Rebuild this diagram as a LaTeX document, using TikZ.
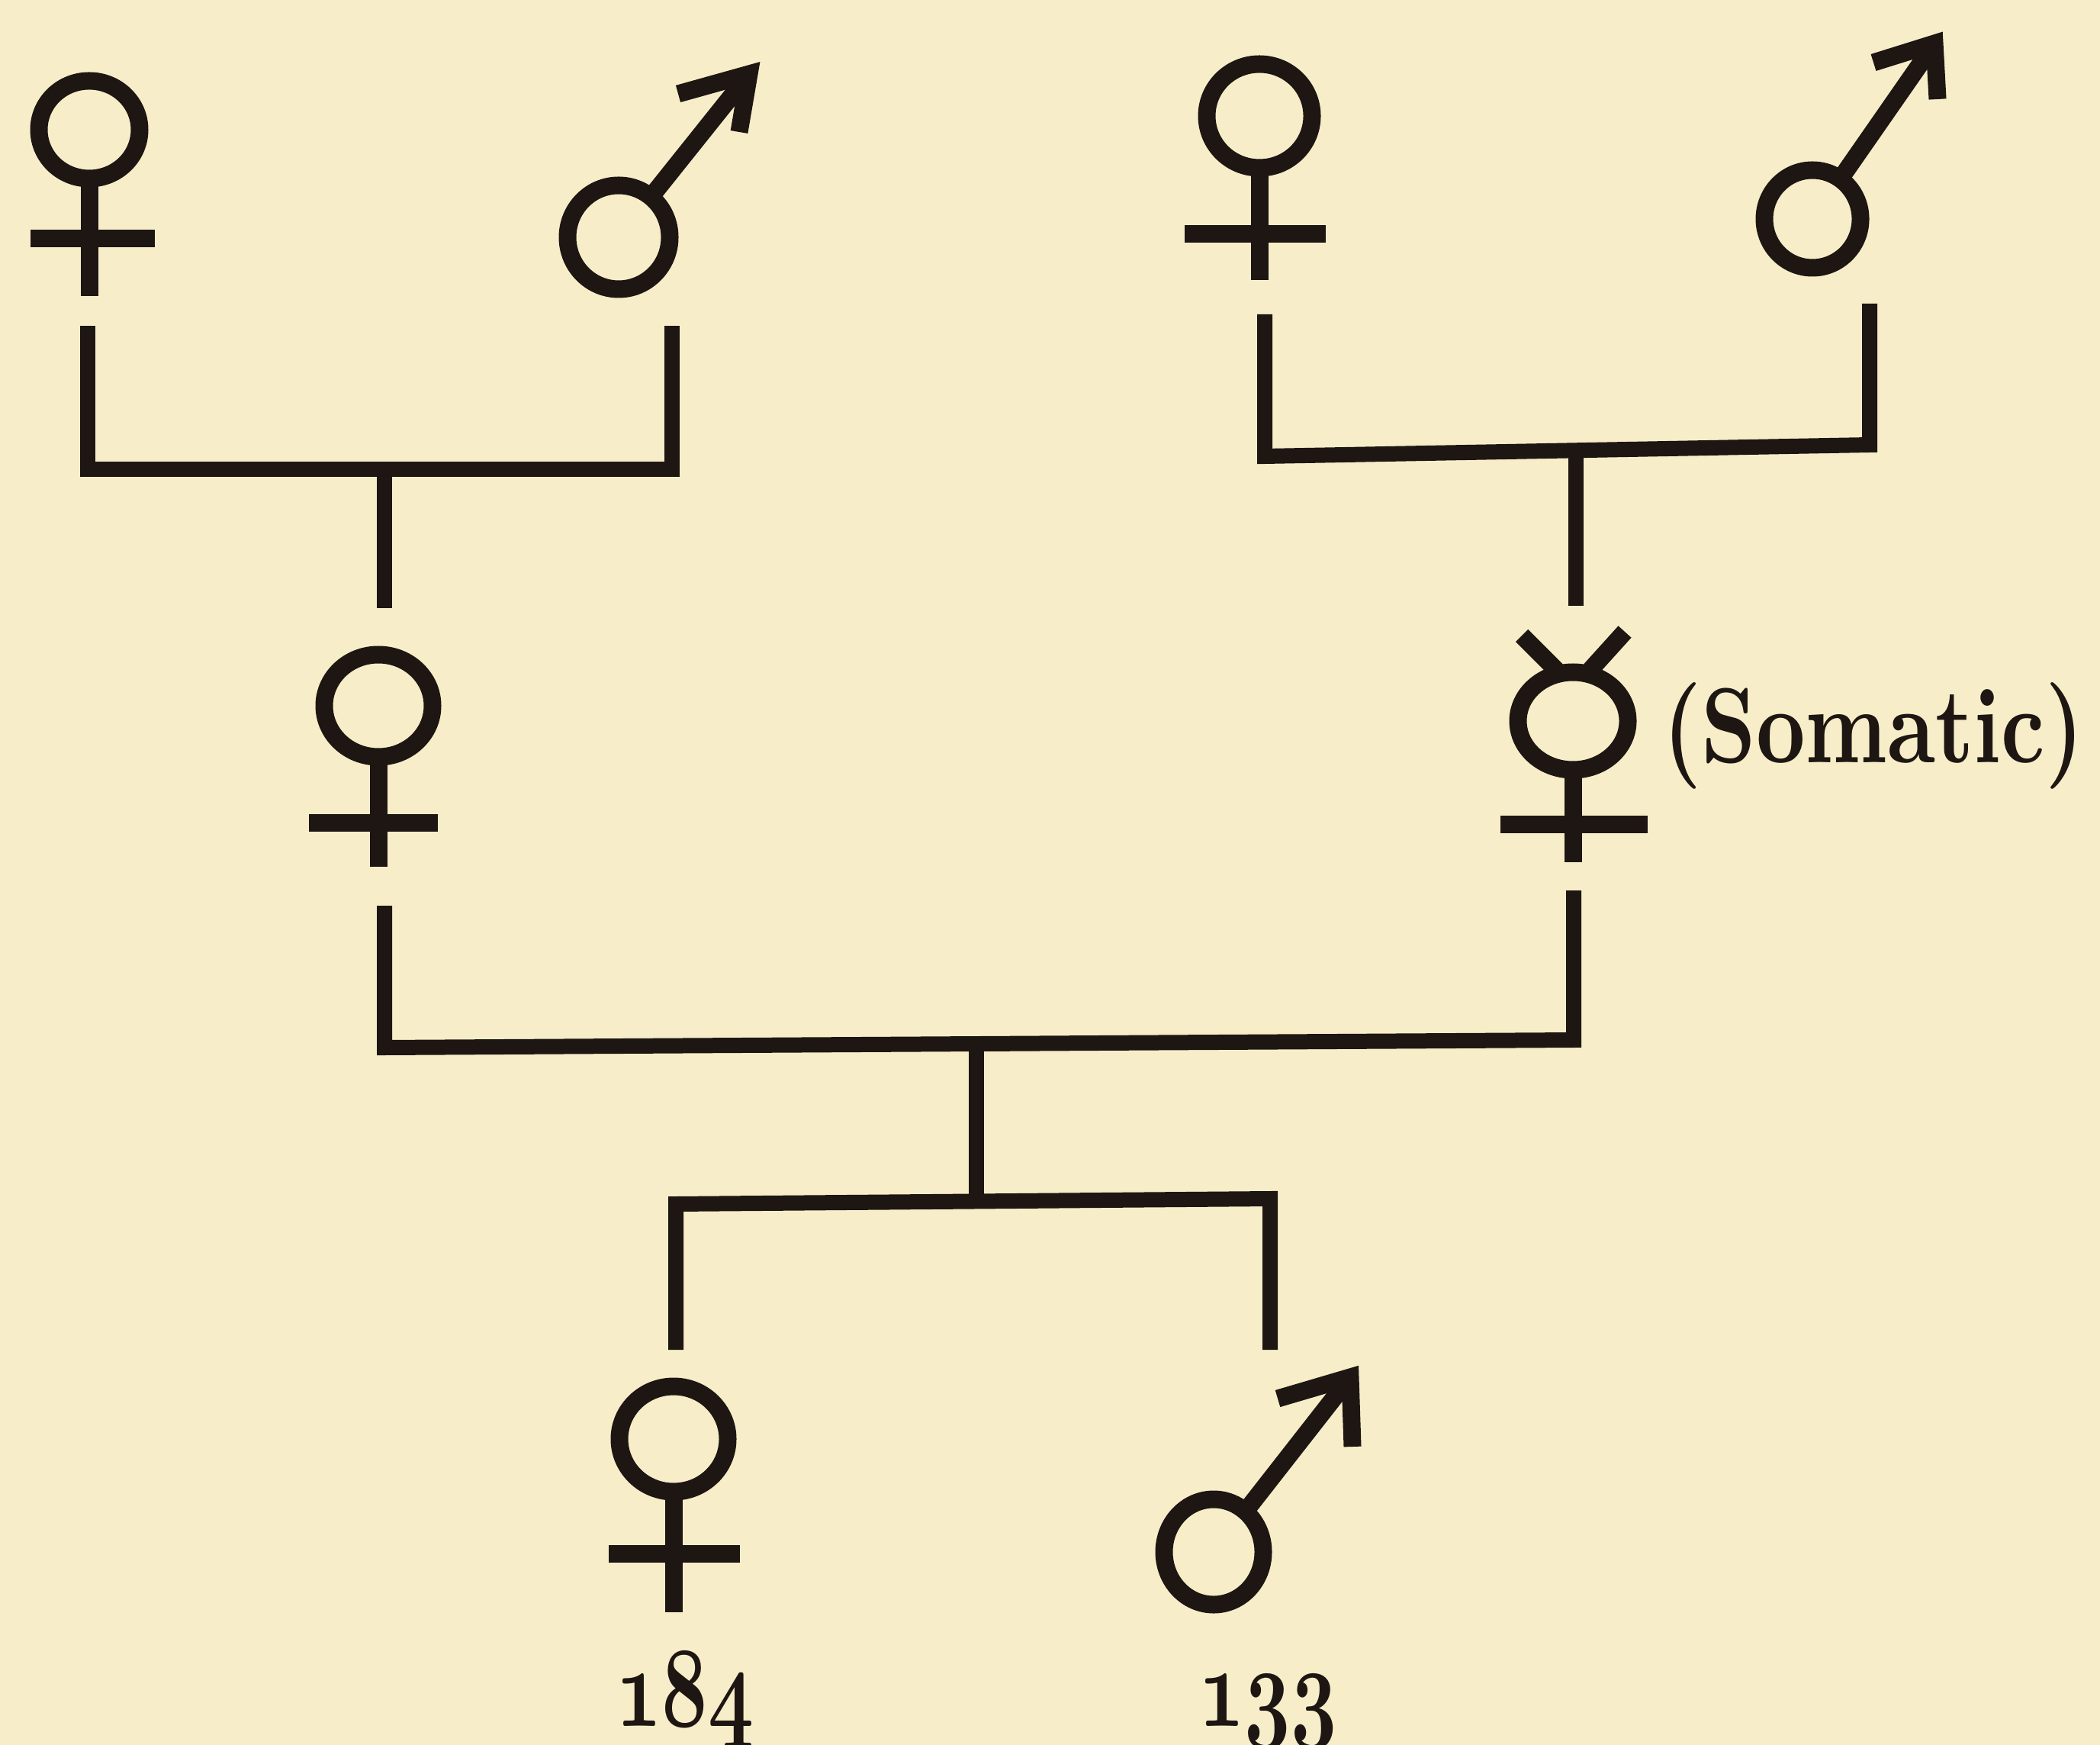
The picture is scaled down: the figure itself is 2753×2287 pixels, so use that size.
\documentclass[tikz,border=0pt]{standalone}
\usetikzlibrary{calc}
\definecolor{paper}{RGB}{247,238,201}
\definecolor{ink}{RGB}{30,22,18}
\newcommand\osfbold[1]{{\usefont{OML}{cmm}{b}{it}#1}}
% female symbol: centre x, centre y, rx, ry, stem end y, bar y, bar left, bar right
\newcommand\femsym[8]{%
  \draw[sym] (#1,#2) ellipse [x radius=#3, y radius=#4];
  \draw[sym] (#1,#2+#4) -- (#1,#5);
  \draw[sym] (#7,#6) -- (#8,#6);}
% male symbol: centre name, rx, ry  (uses coordinates name-tip, name-b1, name-b2)
\newcommand\malesym[3]{%
  \draw[sym] (#1) ellipse [x radius=#2, y radius=#3];
  \draw[sym,line cap=butt] ($(#1)!12pt!(#1-tip)$) -- (#1-tip);
  \draw[sym,line join=miter,miter limit=10] (#1-b1) -- (#1-tip) -- (#1-b2);}
\begin{document}
\begin{tikzpicture}[x=0.2pt,y=-0.2pt,
  conn/.style={draw=ink,line width=4pt,line join=miter,line cap=butt},
  sym/.style={draw=ink,line width=4.6pt},
  lbl/.style={text=ink,inner sep=0pt,outer sep=0pt}]
\fill[paper] (0,0) rectangle (2753,2287);
\useasboundingbox (0,0) rectangle (2753,2287);

% ---------- symbol centres ----------
\coordinate (tlf) at (117,170);
\coordinate (tlm) at (811,311);
\coordinate (tlm-tip) at (982,97);
\coordinate (tlm-b1) at (889,123);
\coordinate (tlm-b2) at (969,173);
\coordinate (trf) at (1651,152);
\coordinate (trm) at (2376,287);
\coordinate (trm-tip) at (2536,57);
\coordinate (trm-b1) at (2456,82);
\coordinate (trm-b2) at (2540,130);
\coordinate (mlf) at (496,925);
\coordinate (som) at (2062,945);
\coordinate (bf) at (883,1886);
\coordinate (bm) at (1591,2034);
\coordinate (bm-tip) at (1770,1805);
\coordinate (bm-b1) at (1675,1833);
\coordinate (bm-b2) at (1773,1896);

% ---------- symbols ----------
\femsym{117}{170}{66}{64}{388}{313}{40}{203}
\malesym{tlm}{67}{68}
\femsym{1651}{152}{69}{68}{367}{307}{1553}{1738}
\malesym{trm}{63}{64}
\femsym{496}{925}{71}{67}{1136}{1078}{405}{574}
\femsym{2062}{945}{72}{64}{1130}{1080}{1967}{2160}
\draw[sym] (1995,833) -- (2042,880);
\draw[sym] (2130,828) -- (2083,880);
\femsym{883}{1886}{71}{69}{2113}{2036}{798}{970}
\malesym{bm}{65}{69}

% ---------- connector end points ----------
\coordinate (tlf-t) at (115,427);   \coordinate (tlf-k) at (115,615);
\coordinate (tlm-t) at (881,427);   \coordinate (tlm-k) at (881,615);
\coordinate (tlj) at (504,615);     \coordinate (mlf-t) at (504,797);
\coordinate (trf-t) at (1658,412);  \coordinate (trf-k) at (1658,598);
\coordinate (trm-t) at (2451,398);  \coordinate (trm-k) at (2451,583);
\coordinate (trj) at (2066,590);    \coordinate (som-t) at (2066,794);
\coordinate (mlf-b) at (504,1187);  \coordinate (mlf-k) at (504,1373);
\coordinate (som-b) at (2063,1167); \coordinate (som-k) at (2063,1363);
\coordinate (mj) at (1280,1368);    \coordinate (mj-b) at (1280,1575);
\coordinate (bf-k) at (886,1578);   \coordinate (bf-t) at (886,1769);
\coordinate (bm-k) at (1665,1571);  \coordinate (bm-t) at (1665,1769);

% ---------- connectors ----------
\draw[conn] (tlf-t) -- (tlf-k) -- (tlm-k) -- (tlm-t);
\draw[conn] (tlj) -- (mlf-t);
\draw[conn] (trf-t) -- (trf-k) -- (trm-k) -- (trm-t);
\draw[conn] (trj) -- (som-t);
\draw[conn] (mlf-b) -- (mlf-k) -- (som-k) -- (som-b);
\draw[conn] (mj) -- (mj-b);
\draw[conn] (bf-t) -- (bf-k) -- (bm-k) -- (bm-t);

% ---------- labels ----------
\node[lbl,anchor=base west,xscale=2.25,yscale=2.8] (somlbl) at (2180,1000) {\bfseries (Somatic)};
\node[lbl,anchor=base,xscale=2.1,yscale=3.0] (n184) at (898,2262) {\osfbold{184}};
\node[lbl,anchor=base,xscale=2.1,yscale=3.0] (n133) at (1662,2262) {\osfbold{133}};
\end{tikzpicture}
\end{document}
